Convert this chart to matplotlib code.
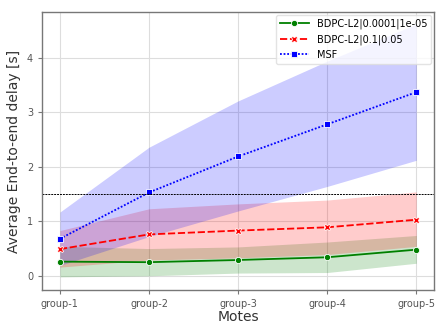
import matplotlib
matplotlib.use("Agg")
import matplotlib.pyplot as plt
import numpy as np

groups = ["group-1", "group-2", "group-3", "group-4", "group-5"]

green_mean = [0.26, 0.25, 0.29, 0.34, 0.48]
green_low = [-0.02, 0.00, 0.05, 0.06, 0.23]
green_high = [0.54, 0.50, 0.53, 0.62, 0.74]

red_mean = [0.49, 0.76, 0.83, 0.89, 1.03]
red_low = [0.16, 0.29, 0.33, 0.39, 0.54]
red_high = [0.83, 1.23, 1.32, 1.39, 1.54]

blue_mean = [0.68, 1.53, 2.19, 2.78, 3.37]
blue_low = [0.19, 0.72, 1.19, 1.64, 2.12]
blue_high = [1.17, 2.36, 3.21, 3.94, 4.62]

threshold = 1.5

fig, ax = plt.subplots(figsize=(4.48, 3.36), dpi=100)
x = np.arange(len(groups))

ax.fill_between(x, green_low, green_high, color="green", alpha=0.2, linewidth=0)
ax.fill_between(x, red_low, red_high, color="red", alpha=0.2, linewidth=0)
ax.fill_between(x, blue_low, blue_high, color="blue", alpha=0.2, linewidth=0)

ax.plot(x, green_mean, color="green", linestyle="-", marker="o", markersize=4.5,
        markeredgecolor="white", markeredgewidth=0.6, linewidth=1.3,
        label="BDPC-L2|0.0001|1e-05")
ax.plot(x, red_mean, color="red", linestyle=(0, (4, 1.5)), marker="X", markersize=4.5,
        markeredgecolor="white", markeredgewidth=0.6, linewidth=1.3,
        label="BDPC-L2|0.1|0.05")
ax.plot(x, blue_mean, color="blue", linestyle=(0, (1, 1)), marker="s", markersize=3.8,
        markeredgecolor="white", markeredgewidth=0.6, linewidth=1.3,
        label="MSF")

ax.axhline(threshold, color="black", linestyle=(0, (2, 1)), linewidth=0.7)

ax.set_xticks(x)
ax.set_xticklabels(groups)
ax.set_xlim(-0.2, 4.2)
ax.set_ylim(-0.26, 4.84)
ax.set_yticks([0, 1, 2, 3, 4])

ax.grid(True, color="#dddddd", linewidth=0.8)
ax.set_axisbelow(True)
for s in ax.spines.values():
    s.set_color("#777777")
    s.set_linewidth(1.0)
ax.tick_params(axis="both", labelsize=7, labelcolor="#555555", length=3, width=0.8,
               color="#777777")

ax.set_xlabel("Motes", fontsize=10, color="#333333", labelpad=1)
ax.set_ylabel("Average End-to-end delay [s]", fontsize=10, color="#333333")

leg = ax.legend(loc="upper right", fontsize=7, framealpha=0.8, handlelength=3,
                borderaxespad=0.3)
leg.get_frame().set_edgecolor("#dddddd")

fig.subplots_adjust(left=0.094, right=0.969, top=0.964, bottom=0.137)
fig.savefig("out.png", dpi=100)
